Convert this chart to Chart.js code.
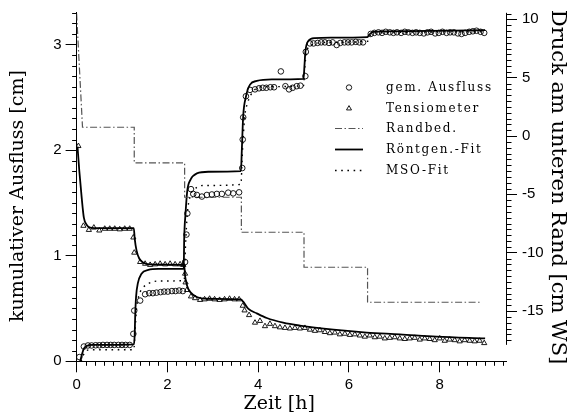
<!DOCTYPE html>
<html><head><meta charset="utf-8">
<script src="https://cdn.jsdelivr.net/npm/chart.js@4.4.1/dist/chart.umd.min.js"></script>
<style>html,body{margin:0;padding:0;background:#fff;}#wrap{width:570px;height:415px;}</style>
</head><body><div id="wrap"><canvas id="c" width="570" height="415" style="width:570px;height:415px"></canvas></div>
<script>
// ---- data (time [h], value) ----
const outflowMeas = [[0.06,0.04],[0.16,0.14],[0.25,0.15],[0.33,0.15],[0.42,0.152],[0.50,0.152],[0.58,0.155],[0.67,0.155],[0.75,0.155],[0.83,0.155],[0.92,0.155],[1.00,0.155],[1.08,0.155],[1.17,0.155],
 [1.25,0.26],[1.27,0.48],[1.40,0.575],[1.51,0.635],[1.60,0.645],[1.68,0.645],[1.76,0.65],[1.85,0.655],[1.93,0.66],[2.01,0.66],[2.10,0.665],[2.18,0.665],[2.26,0.67],[2.34,0.665],
 [2.39,0.94],[2.42,1.20],[2.44,1.40],[2.52,1.63],[2.57,1.585],[2.65,1.575],[2.76,1.56],[2.87,1.575],[2.98,1.58],[3.09,1.585],[3.20,1.585],[3.34,1.597],[3.45,1.59],[3.58,1.60],
 [3.65,1.83],[3.66,2.10],[3.67,2.31],[3.73,2.51],[3.82,2.57],[3.93,2.575],[4.02,2.585],[4.10,2.59],[4.18,2.59],[4.27,2.595],[4.35,2.595],[4.50,2.745],[4.60,2.605],[4.68,2.575],[4.76,2.59],[4.85,2.605],[4.93,2.61],
 [5.04,2.70],[5.05,2.93],[5.14,3.01],[5.22,3.01],[5.31,3.015],[5.39,3.02],[5.47,3.02],[5.56,3.015],[5.64,3.02],[5.73,2.995],[5.81,3.015],[5.90,3.02],[5.98,3.02],[6.06,3.02],[6.15,3.025],[6.23,3.02],[6.31,3.02],
 [6.48,3.10],[6.56,3.11],[6.65,3.115],[6.73,3.11],[6.81,3.12],[6.90,3.115],[6.98,3.11],[7.06,3.115],[7.15,3.11],[7.23,3.12],[7.31,3.115],[7.40,3.11],[7.48,3.115],[7.56,3.11],[7.65,3.105],[7.73,3.115],[7.81,3.12],[7.90,3.105],[7.98,3.11],[8.06,3.12],[8.15,3.11],[8.23,3.115],[8.31,3.115],[8.40,3.105],[8.48,3.10],[8.56,3.11],[8.65,3.12],[8.73,3.125],[8.81,3.13],[8.90,3.12],[8.98,3.11]];

const tensioMeas = [[0.04,-0.86],[0.15,-7.7],[0.27,-8.05],[0.38,-7.85],[0.50,-8.1],[0.62,-7.95],[0.73,-7.95],[0.84,-7.95],[0.95,-8.0],[1.06,-7.95],[1.17,-7.95],
 [1.25,-8.7],[1.27,-10.0],[1.40,-10.8],[1.51,-10.95],[1.62,-11.05],[1.73,-11.0],[1.84,-10.95],[1.95,-11.0],[2.06,-10.95],[2.17,-11.0],[2.28,-11.0],[2.35,-11.05],
 [2.39,-11.8],[2.40,-12.55],[2.43,-13.2],[2.52,-13.75],[2.61,-13.9],[2.72,-14.05],[2.82,-14.0],[2.93,-13.95],[3.04,-14.0],[3.15,-14.05],[3.26,-14.0],[3.37,-13.95],[3.48,-14.0],[3.58,-14.0],
 [3.66,-14.55],[3.70,-14.95],[3.80,-15.35],[3.93,-16.0],[4.04,-15.85],[4.15,-16.3],[4.26,-16.1],[4.37,-16.3],[4.48,-16.4],[4.59,-16.45],[4.70,-16.5],[4.81,-16.45],[4.92,-16.5],[5.03,-16.45],
 [5.14,-16.6],[5.25,-16.7],[5.36,-16.65],[5.47,-16.8],[5.58,-16.9],[5.69,-16.85],[5.80,-17.0],[5.91,-16.95],[6.02,-17.05],[6.13,-17.0],[6.24,-17.1],[6.35,-17.2],[6.46,-17.1],[6.57,-17.25],[6.68,-17.2],[6.79,-17.35],[6.90,-17.3],[7.01,-17.25],[7.12,-17.35],[7.23,-17.4],[7.34,-17.35],[7.45,-17.3],[7.56,-17.45],[7.67,-17.35],[7.78,-17.4],[7.89,-17.5],[8.00,-17.35],[8.11,-17.55],[8.22,-17.45],[8.33,-17.5],[8.44,-17.6],[8.55,-17.5],[8.66,-17.55],[8.77,-17.6],[8.88,-17.55],[8.98,-17.75]];

const boundary = [[0,10.5],[0.13,0.75],[1.27,0.75],[1.27,-2.3],[2.38,-2.3],[2.38,-5.25],[3.63,-5.25],[3.63,-8.25],[5.01,-8.25],[5.01,-11.25],[6.41,-11.25],[6.41,-14.25],[8.92,-14.25]];

const xrayFitOutflow = [[0.08,0.0],[0.12,0.07],[0.16,0.12],[0.22,0.145],[0.35,0.155],[1.26,0.16],[1.28,0.25],[1.29,0.42],[1.31,0.61],[1.35,0.74],[1.43,0.83],[1.58,0.865],[1.8,0.875],[2.36,0.875],
 [2.37,1.15],[2.40,1.40],[2.44,1.62],[2.51,1.72],[2.65,1.78],[2.9,1.795],[3.62,1.80],[3.64,2.0],[3.67,2.32],[3.73,2.505],[3.82,2.62],[3.97,2.655],[4.3,2.67],[5.0,2.675],
 [5.02,2.80],[5.04,2.93],[5.10,3.03],[5.25,3.06],[5.6,3.065],[6.41,3.07],[6.44,3.09],[6.54,3.12],[6.8,3.125],[9.0,3.135]];

const xrayFitTensio = [[0.02,-0.9],[0.06,-3.0],[0.11,-5.2],[0.16,-7.0],[0.22,-7.6],[0.30,-7.85],[0.5,-7.9],[1.26,-7.9],[1.28,-8.8],[1.32,-9.8],[1.38,-10.5],[1.47,-10.85],[1.6,-11.0],[2.37,-11.05],
 [2.39,-12.0],[2.44,-12.9],[2.51,-13.4],[2.65,-13.8],[2.9,-13.95],[3.62,-14.0],[3.67,-14.2],[3.78,-14.8],[3.97,-15.2],[4.19,-15.6],[4.55,-16.0],[4.92,-16.25],[5.66,-16.6],[6.39,-16.85],[7.12,-17.0],[7.93,-17.2],[9.0,-17.35]];

const msoFitOutflow = [[0.10,0.0],[0.15,0.06],[0.22,0.10],[0.30,0.11],[1.26,0.11],[1.29,0.30],[1.32,0.50],[1.37,0.62],[1.45,0.69],[1.6,0.74],[1.8,0.76],[2.37,0.765],
 [2.40,1.10],[2.44,1.40],[2.50,1.56],[2.60,1.63],[2.8,1.665],[3.62,1.675],[3.65,1.95],[3.70,2.30],[3.77,2.45],[3.90,2.56],[4.1,2.60],[5.0,2.61],
 [5.03,2.80],[5.08,2.95],[5.2,3.0],[5.5,3.02],[6.41,3.03],[6.46,3.08],[6.6,3.11],[9.0,3.12]];

const xTicks = [0,2,4,6,8];
const yLeftTicks = [0,1,2,3];
const yRightTicks = [-15,-10,-5,0,5,10];
const legendLabels = ['gem. Ausfluss','Tensiometer','Randbed.','Röntgen.-Fit','MSO-Fit'];

// ---- styles ----
const DASHDOT = [7,2.5,1.5,2.5];
const DOTTED = [1.6,4.6];
const GRAY = '#555';
const toXY = a => a.map(p => ({x:p[0], y:p[1]}));
const SANS = 'Liberation Sans';
const SERIF = 'DejaVu Serif';

function keep(list){ return s => { s.ticks = list.map(v => ({value:v})); }; }
function noPad(w,h){ return s => { if (w!=null) s.width = w; if (h!=null) s.height = h; s.paddingTop=0; s.paddingBottom=0; s.paddingLeft=0; s.paddingRight=0; }; }

const minorTicks = {
  id:'minorTicks',
  afterDraw(chart){
    const ctx = chart.ctx, ca = chart.chartArea;
    const sx = chart.scales.x, sl = chart.scales.y, sr = chart.scales.y2;
    ctx.save();
    ctx.strokeStyle = '#000'; ctx.lineWidth = 1;
    ctx.beginPath();
    for (let i=0;i<=47;i++){ if (i%10===0) continue; const px = Math.round(sx.getPixelForValue(i/5))+0.5; ctx.moveTo(px, ca.bottom); ctx.lineTo(px, ca.bottom+4.5); }
    for (let i=0;i<=33;i++){ if (i%10===0) continue; const py = Math.round(sl.getPixelForValue(i/10))+0.5; ctx.moveTo(ca.left, py); ctx.lineTo(ca.left-4.5, py); }
    for (let i=-35;i<=21;i++){ if (i%10===0) continue; const py = Math.round(sr.getPixelForValue(i/2))+0.5; ctx.moveTo(ca.right, py); ctx.lineTo(ca.right+5.5, py); }
    const rx = Math.round(ca.right)+0.5;
    ctx.moveTo(rx, sr.getPixelForValue(-17.9)); ctx.lineTo(rx, ca.top);
    ctx.stroke();
    ctx.restore();
  }
};

const legendPlugin = {
  id:'customLegend',
  afterDraw(chart){
    const ctx = chart.ctx;
    const x0 = 335, x1 = 363, xs = 349, xt = 386;
    const ys = [87.5,108.5,128.5,149.5,170.5];
    ctx.save();
    ctx.strokeStyle = '#000'; ctx.lineWidth = 0.9;
    ctx.beginPath(); ctx.arc(xs, ys[0], 2.7, 0, Math.PI*2); ctx.stroke();
    const r = 2.9;
    ctx.beginPath();
    for (let k=0;k<3;k++){ const a = k*2*Math.PI/3; const px = xs + Math.sin(a)*r, py = ys[1] - Math.cos(a)*r; if(k===0) ctx.moveTo(px,py); else ctx.lineTo(px,py); }
    ctx.closePath(); ctx.stroke();
    ctx.strokeStyle = GRAY; ctx.lineWidth = 1.2; ctx.setLineDash(DASHDOT);
    ctx.beginPath(); ctx.moveTo(x0, ys[2]); ctx.lineTo(x1, ys[2]); ctx.stroke();
    ctx.strokeStyle = '#000'; ctx.lineWidth = 1.8; ctx.setLineDash([]);
    ctx.beginPath(); ctx.moveTo(x0, ys[3]); ctx.lineTo(x1, ys[3]); ctx.stroke();
    ctx.lineWidth = 1.4; ctx.setLineDash(DOTTED);
    ctx.beginPath(); ctx.moveTo(x0, ys[4]); ctx.lineTo(x1, ys[4]); ctx.stroke();
    ctx.setLineDash([]);
    ctx.fillStyle = '#000'; ctx.font = '12px "' + SERIF + '"'; ctx.textBaseline = 'middle'; ctx.textAlign = 'left';
    try { ctx.letterSpacing = '1.7px'; } catch(e) {}
    legendLabels.forEach((t,i) => ctx.fillText(t, xt, ys[i]));
    ctx.restore();
  }
};

new Chart(document.getElementById('c'), {
  type:'scatter',
  data:{ datasets:[
    { label:legendLabels[0], data:toXY(outflowMeas), yAxisID:'y', showLine:false, pointStyle:'circle', pointRadius:2.8, pointBorderWidth:0.9, borderColor:'#000', backgroundColor:'rgba(0,0,0,0)' },
    { label:legendLabels[1], data:toXY(tensioMeas), yAxisID:'y2', showLine:false, pointStyle:'triangle', pointRadius:3.0, pointBorderWidth:0.9, borderColor:'#000', backgroundColor:'rgba(0,0,0,0)' },
    { label:legendLabels[2], data:toXY(boundary), yAxisID:'y2', showLine:true, pointRadius:0, borderColor:GRAY, borderWidth:1.2, borderDash:DASHDOT, tension:0 },
    { label:legendLabels[3], data:toXY(xrayFitOutflow), yAxisID:'y', showLine:true, pointRadius:0, borderColor:'#000', borderWidth:1.8, cubicInterpolationMode:'monotone' },
    { label:legendLabels[3]+' T', data:toXY(xrayFitTensio), yAxisID:'y2', showLine:true, pointRadius:0, borderColor:'#000', borderWidth:1.8, cubicInterpolationMode:'monotone' },
    { label:legendLabels[4], data:toXY(msoFitOutflow), yAxisID:'y', showLine:true, pointRadius:0, borderColor:'#000', borderWidth:1.4, borderDash:DOTTED, cubicInterpolationMode:'monotone' }
  ]},
  options:{
    responsive:false, animation:false, devicePixelRatio:1,
    layout:{ padding:{ top:12.8, left:0, right:0, bottom:0 } },
    plugins:{ legend:{display:false}, tooltip:{enabled:false} },
    scales:{
      x:{ type:'linear', position:'bottom', min:0, max:9.46,
        ticks:{ stepSize:2, color:'#000', font:{family:SANS, size:15}, padding:4, maxRotation:0, callback:v=>String(v) },
        afterBuildTicks: keep(xTicks), afterFit: noPad(null, 53.7),
        grid:{ drawOnChartArea:false, drawTicks:true, tickLength:11, color:'#000', tickColor:'#000' },
        border:{ display:true, color:'#000', width:1 },
        title:{ display:true, text:'Zeit [h]    ', color:'#000', font:{family:SERIF, size:19}, padding:{top:0,bottom:0} } },
      y:{ type:'linear', position:'left', min:0, max:3.3,
        ticks:{ stepSize:1, color:'#000', font:{family:SANS, size:15}, padding:4, callback:v=>String(v) },
        afterBuildTicks: keep(yLeftTicks), afterFit: noPad(76.6, null),
        grid:{ drawOnChartArea:false, drawTicks:true, tickLength:11, color:'#000', tickColor:'#000' },
        border:{ display:true, color:'#000', width:1 },
        title:{ display:true, text:'kumulativer Ausfluss [cm]   ', color:'#000', font:{family:SERIF, size:19}, padding:{top:6.6,bottom:0} } },
      y2:{ type:'linear', position:'right', min:-19.31, max:10.56,
        ticks:{ stepSize:5, color:'#000', font:{family:SANS, size:15}, padding:5, callback:v=>String(v) },
        afterBuildTicks: keep(yRightTicks), afterFit: noPad(64, null),
        grid:{ drawOnChartArea:false, drawTicks:true, tickLength:11, color:'#000', tickColor:'#000' },
        border:{ display:false },
        title:{ display:true, text:'Druck am unteren Rand [cm WS]', color:'#000', font:{family:SERIF, size:21}, padding:{top:0.4,bottom:0} } }
    }
  },
  plugins:[minorTicks, legendPlugin]
});
</script>
</body></html>
